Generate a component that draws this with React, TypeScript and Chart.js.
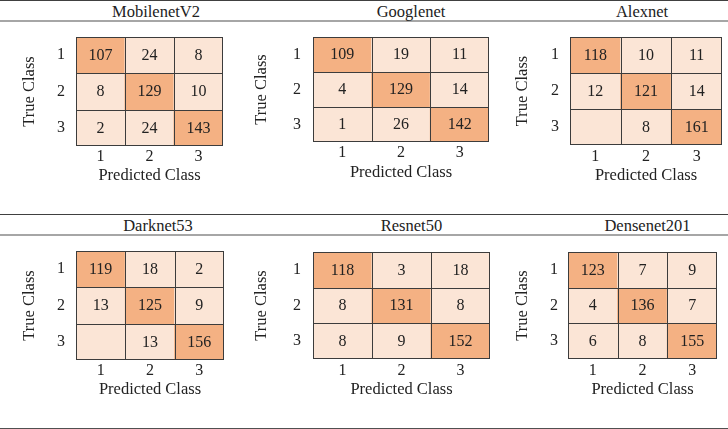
import React, { useEffect, useRef } from 'react';
import { Chart, registerables } from 'chart.js';

Chart.register(...registerables);

// ---------- data ----------
const classLabels = ['1', '2', '3'];
const xAxisTitle = 'Predicted Class';
const yAxisTitle = 'True Class';
const modelNames = ['MobilenetV2', 'Googlenet', 'Alexnet', 'Darknet53', 'Resnet50', 'Densenet201'];

const mobilenetV2 = [
  [107, 24, 8],
  [8, 129, 10],
  [2, 24, 143],
];
const googlenet = [
  [109, 19, 11],
  [4, 129, 14],
  [1, 26, 142],
];
const alexnet = [
  [118, 10, 11],
  [12, 121, 14],
  [null, 8, 161],
];
const darknet53 = [
  [119, 18, 2],
  [13, 125, 9],
  [null, 13, 156],
];
const resnet50 = [
  [118, 3, 18],
  [8, 131, 8],
  [8, 9, 152],
];
const densenet201 = [
  [123, 7, 9],
  [4, 136, 7],
  [6, 8, 155],
];
const matrices = [mobilenetV2, googlenet, alexnet, darknet53, resnet50, densenet201];

// ---------- layout & style ----------
const FONT = "'Liberation Serif', 'Times New Roman', serif";
const TEXT = '#222222';
const DIAG = '#F4B183';
const OFF = '#FBE5D6';
const BORDER = '#3c3c3c';
const W_Y = 64;
const H_X = 45;
const PAD_T = 4;
const PAD_R = 4;

const panelLayout = [
  { L: 76, T: 37, R: 223, B: 146, cx: 156, ty: 3.6, yTitleGap: 46, yTickGap: 15, xTickGap: 11, xTitleGap: 30 },
  { L: 313, T: 37, R: 489, B: 142, cx: 411, ty: 3.6, yTitleGap: 51, yTickGap: 16, xTickGap: 11, xTitleGap: 31 },
  { L: 570, T: 37, R: 722, B: 145, cx: 642, ty: 3.6, yTitleGap: 47, yTickGap: 15, xTickGap: 12, xTitleGap: 31 },
  { L: 76, T: 251, R: 224, B: 360, cx: 158, ty: 217.6, yTitleGap: 46, yTickGap: 15, xTickGap: 11, xTitleGap: 30 },
  { L: 313, T: 252, R: 490, B: 359, cx: 411.5, ty: 217.6, yTitleGap: 51, yTickGap: 16, xTickGap: 12, xTitleGap: 31 },
  { L: 568, T: 252, R: 717, B: 359, cx: 647.5, ty: 217.6, yTitleGap: 45, yTickGap: 14, xTickGap: 12, xTitleGap: 31 },
];

const rules = [
  { top: 0, h: 1, c: '#404040' },
  { top: 20, h: 2, c: '#a6a6a6' },
  { top: 214, h: 1, c: '#404040' },
  { top: 234, h: 2, c: '#a6a6a6' },
  { top: 428, h: 1, c: '#505050' },
];

// cell borders, placed from the scales at the cell boundaries
const cellGridPlugin = {
  id: 'cellGrid',
  afterDatasetsDraw(chart: any) {
    const ctx = chart.ctx;
    const xs = chart.scales.x;
    const ys = chart.scales.y;
    const n = classLabels.length;
    const half = xs.getPixelForValue(1) - xs.getPixelForValue(0);
    const xb: number[] = [];
    for (let i = 0; i <= n; i++) xb.push(xs.getPixelForValue(0) - half / 2 + i * half);
    const yb: number[] = [];
    for (let i = 0; i <= n; i++) yb.push(ys.getPixelForValue(0.5 + i));
    const top = Math.round(Math.min(yb[0], yb[n]));
    const bottom = Math.round(Math.max(yb[0], yb[n]));
    const left = Math.round(xb[0]);
    const right = Math.round(xb[n]);
    ctx.save();
    ctx.fillStyle = BORDER;
    xb.forEach((p, i) => {
      const x = i === n ? Math.round(p) - 1 : Math.round(p);
      ctx.fillRect(x, top, 1, bottom - top);
    });
    yb.forEach((p, i) => {
      const y = i === n ? Math.round(p) - 1 : Math.round(p);
      ctx.fillRect(left, y, right - left, 1);
    });
    ctx.restore();
  },
};

const cellValuePlugin = {
  id: 'cellValues',
  afterDatasetsDraw(chart: any) {
    const ctx = chart.ctx;
    ctx.save();
    ctx.font = `16px ${FONT}`;
    ctx.fillStyle = TEXT;
    ctx.textAlign = 'center';
    ctx.textBaseline = 'middle';
    chart.data.datasets.forEach((ds: any, r: number) => {
      const meta = chart.getDatasetMeta(r);
      meta.data.forEach((bar: any, c: number) => {
        const v = ds.counts[c];
        if (v === null || v === undefined) return;
        const { x, y, base } = bar.getProps(['x', 'y', 'base'], true);
        ctx.fillText(String(v), x, (y + base) / 2 + 0.5);
      });
    });
    ctx.restore();
  },
};

function Panel({ index }: { index: number }) {
  const ref = useRef<HTMLCanvasElement>(null);
  const lay = panelLayout[index];
  const matrix = matrices[index];
  const w = lay.R - lay.L + W_Y + PAD_R;
  const h = lay.B - lay.T + PAD_T + H_X;

  useEffect(() => {
    if (!ref.current) return;
    const chart = new Chart(ref.current, {
      type: 'bar',
      data: {
        labels: classLabels,
        datasets: classLabels.map((rowLabel, r) => ({
          label: `${yAxisTitle} ${rowLabel}`,
          data: classLabels.map(() => [r + 0.5, r + 1.5]),
          counts: matrix[r],
          backgroundColor: classLabels.map((_, c) => (r === c ? DIAG : OFF)),
          borderWidth: 0,
          borderSkipped: false,
          grouped: false,
          barPercentage: 1,
          categoryPercentage: 1,
          inflateAmount: 0.5,
        })) as any,
      },
      options: {
        animation: false,
        responsive: false,
        maintainAspectRatio: false,
        devicePixelRatio: 1,
        events: [],
        layout: { padding: { left: 0, top: PAD_T, right: PAD_R, bottom: 0 } },
        plugins: {
          legend: { display: false },
          tooltip: { enabled: false },
          title: { display: false },
        },
        scales: {
          x: {
            type: 'category',
            offset: true,
            grid: { display: false, drawTicks: false },
            border: { display: false },
            ticks: {
              padding: lay.xTickGap - 9.6,
              font: { family: FONT, size: 16 },
              color: TEXT,
              maxRotation: 0,
              autoSkip: false,
            },
            title: {
              display: true,
              text: xAxisTitle,
              font: { family: FONT, size: 16.5 },
              color: TEXT,
              padding: { top: 0, bottom: H_X - lay.xTitleGap - 9.9 },
            },
            afterFit: (s: any) => {
              s.height = H_X;
              s.paddingLeft = 0;
              s.paddingRight = 0;
            },
          },
          y: {
            type: 'linear',
            min: 0.5,
            max: 3.5,
            reverse: true,
            grid: { display: false, drawTicks: false },
            border: { display: false },
            afterBuildTicks: (s: any) => {
              s.ticks = classLabels.map((_, i) => ({ value: i + 1 }));
            },
            ticks: {
              callback: (v: any) => classLabels[Math.round(Number(v)) - 1],
              crossAlign: 'center',
              padding: lay.yTickGap - 4,
              font: { family: FONT, size: 16 },
              color: TEXT,
            },
            title: {
              display: true,
              text: yAxisTitle,
              font: { family: FONT, size: 16.5 },
              color: TEXT,
              padding: { top: W_Y - lay.yTitleGap - 9.9, bottom: 0 },
            },
            afterFit: (s: any) => {
              s.width = W_Y;
              s.paddingTop = 0;
              s.paddingBottom = 0;
            },
          },
        },
      } as any,
      plugins: [cellGridPlugin, cellValuePlugin],
    });
    return () => chart.destroy();
  }, []);

  return (
    <>
      <div
        style={{
          position: 'absolute',
          left: lay.cx,
          top: lay.ty,
          transform: 'translateX(-50%)',
          font: `16.5px ${FONT}`,
          lineHeight: '16px',
          color: TEXT,
          whiteSpace: 'nowrap',
        }}
      >
        {modelNames[index]}
      </div>
      <canvas
        ref={ref}
        width={w}
        height={h}
        style={{ position: 'absolute', left: lay.L - W_Y, top: lay.T - PAD_T, width: w, height: h }}
      />
    </>
  );
}

export default function App() {
  return (
    <>
      <style>{'html,body{margin:0;padding:0;background:#ffffff;}'}</style>
      <div style={{ position: 'relative', width: 728, height: 429, overflow: 'hidden', background: '#ffffff' }}>
        {rules.map((r, i) => (
          <div key={i} style={{ position: 'absolute', left: 0, width: 728, top: r.top, height: r.h, background: r.c }} />
        ))}
        {modelNames.map((_, i) => (
          <Panel key={i} index={i} />
        ))}
      </div>
    </>
  );
}
